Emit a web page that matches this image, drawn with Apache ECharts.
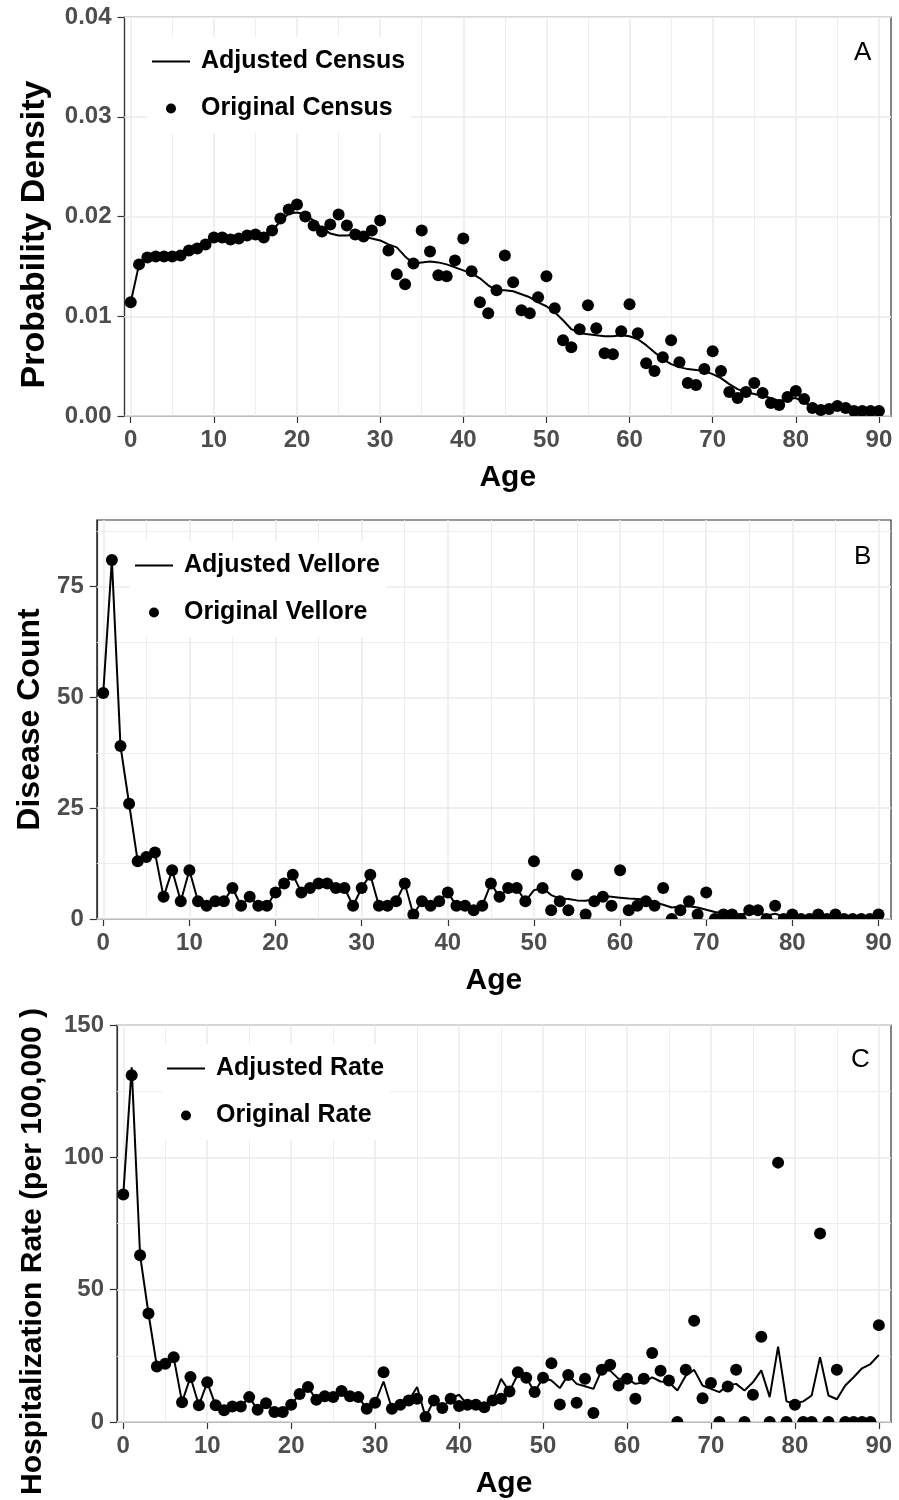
<!DOCTYPE html>
<html><head><meta charset="utf-8">
<script src="https://cdn.jsdelivr.net/npm/echarts@6/dist/echarts.min.js"></script>
<style>html,body{margin:0;padding:0;background:#fff}#c{width:899px;height:1500px}</style>
</head><body><div id="c"></div>
<script>
const ages = [0,1,2,3,4,5,6,7,8,9,10,11,12,13,14,15,16,17,18,19,20,21,22,23,24,25,26,27,28,29,30,31,32,33,34,35,36,37,38,39,40,41,42,43,44,45,46,47,48,49,50,51,52,53,54,55,56,57,58,59,60,61,62,63,64,65,66,67,68,69,70,71,72,73,74,75,76,77,78,79,80,81,82,83,84,85,86,87,88,89,90];

// Panel A
const censusOriginal = [0.0114,0.0152,0.0159,0.0160,0.0160,0.0160,0.0161,0.0166,0.0168,0.0172,0.0179,0.0179,0.0177,0.0178,0.0181,0.0182,0.0179,0.0186,0.0198,0.0207,0.0212,0.0200,0.0191,0.0185,0.0192,0.0202,0.0191,0.0182,0.0180,0.0186,0.0196,0.0166,0.0142,0.0132,0.0153,0.0186,0.0165,0.0141,0.0140,0.0156,0.0178,0.0145,0.0114,0.0103,0.0126,0.0161,0.0134,0.0106,0.0103,0.0119,0.0140,0.0108,0.0076,0.0069,0.0087,0.0111,0.0088,0.0063,0.0062,0.0085,0.0112,0.0083,0.0053,0.0045,0.0059,0.0076,0.0054,0.0033,0.0031,0.0047,0.0065,0.0045,0.0024,0.0018,0.0024,0.0033,0.0023,0.0013,0.0011,0.0019,0.0025,0.0017,0.0008,0.0006,0.0007,0.0010,0.0008,0.0005,0.0005,0.0005,0.0005];
const censusAdjusted = [0.0114,0.0152,0.0158,0.0159,0.0159,0.0160,0.0162,0.0165,0.0168,0.0172,0.0177,0.0178,0.0178,0.0179,0.0180,0.0181,0.0182,0.0186,0.0195,0.0203,0.0204,0.0202,0.0196,0.0188,0.0183,0.0181,0.0181,0.0182,0.0180,0.0178,0.0176,0.0172,0.0169,0.0160,0.0153,0.0154,0.0155,0.0154,0.0152,0.0149,0.0146,0.0143,0.0138,0.0131,0.0126,0.0126,0.0125,0.0122,0.0119,0.0114,0.0110,0.0104,0.0096,0.0087,0.0083,0.0082,0.0081,0.0080,0.0080,0.0081,0.0080,0.0077,0.0071,0.0064,0.0057,0.0052,0.0049,0.0047,0.0046,0.0045,0.0042,0.0038,0.0032,0.0027,0.0024,0.0022,0.0020,0.0018,0.0015,0.0017,0.0018,0.0014,0.0009,0.0006,0.0006,0.0006,0.0006,0.0005,0.0004,0.0004,0.0004];

// Panel B
const velloreOriginal = [51,81,39,26,13,14,15,5,11,4,11,4,3,4,4,7,3,5,3,3,6,8,10,6,7,8,8,7,7,3,7,10,3,3,4,8,1,4,3,4,6,3,3,2,3,8,5,7,7,4,13,7,2,4,2,10,1,4,5,3,11,2,3,4,3,7,0,2,4,1,6,0,1,1,0,2,2,0,3,0,1,0,0,1,0,1,0,0,0,0,1];
const velloreAdjusted = [51,81,39,26,13,14,15,5,11,4,11,4,3,4,4,7,3,5,3,3,6,8,10,6,7,8,8,7,7,3,7,10,3,3,4,8,1,4,3,4,6,3,3,2,3,8,5,7,7,4,6.5,7,5.4,4.6,4.5,4.2,4.1,4.5,5.2,5.0,4.8,4.6,4.5,4.4,3.8,3.2,2.6,2.8,2.9,2.6,2.1,1.6,1.3,1.1,1.0,1.4,1.4,0.8,1.2,0.5,0.7,0.4,0.3,0.6,0.3,0.5,0.2,0.2,0.2,0.3,0.8];

// Panel C
const rateOriginal = [86,131,63,41,21,22,24.5,7.5,17,6.3,15,6.3,4.4,5.9,5.9,9.4,4.6,7.1,3.8,3.8,6.5,10.6,13.2,8.4,9.7,9.4,11.7,9.7,9.4,5,7.3,18.8,5,6.5,8.1,8.8,1.9,8.1,5.3,8.8,6,6.5,6.5,5.6,8.1,8.8,11.5,18.8,16.7,11.3,16.7,22.2,6.6,17.8,7.3,16.3,3.4,19.7,21.6,13.8,16.3,8.8,16.3,26.1,19.4,15.7,0,19.7,38.3,9,14.7,0,13.4,19.7,0,10.3,32.2,0,98,0,6.5,0,0,71.2,0,19.7,0,0,0,0,36.6];
const rateAdjusted = [86,134,63,41,21,22,24.5,7.5,17,6.3,15,6.3,4.4,5.9,5.9,9.4,4.6,7.1,3.8,3.8,6.5,10.6,13.2,8.4,9.7,9.4,11.7,9.7,9.4,5,7.3,15.3,5,6.5,8.1,13.2,1.9,8.1,5.3,8.8,10.3,6.5,6.5,5.6,8.1,16.3,11.5,18,16.7,11.3,16.7,15.7,12.8,17.8,14.4,13.5,12.5,19.7,19.4,16.3,16.3,14.4,15,16.9,15.3,15,11.9,17.5,19.7,13.8,12.5,11.3,13.8,14.4,11.9,15,19.5,9.4,28.5,7.8,6.9,7.8,10,24.5,10,8.6,13.8,16.9,20.3,21.9,25.3];

// Tick labels and grid-line positions
const xTicks = [0,10,20,30,40,50,60,70,80,90];
const xMinor = [5,15,25,35,45,55,65,75,85];
const yTicksA = [0,0.01,0.02,0.03,0.04];
const yMinorA = [0.005,0.015,0.025,0.035];
const yTicksB = [0,25,50,75];
const yMinorB = [12.5,37.5,62.5,87.5];
const yTicksC = [0,50,100,150];
const yMinorC = [25,75,125];

const FONT = "'Liberation Sans', Arial, Helvetica, sans-serif";
const pair = (vals) => ages.map((a, i) => [a, vals[i]]);
const LINE_ICON = 'path://M0,0 L38,0 L38,2.2 L0,2.2 Z';

const panels = [
  {grid:{left:124.5, top:17, width:766.5, height:399}, ymax:0.04, yTicks:yTicksA, yMinor:yMinorA, yName:'Probability Density',
   yNameGap:73, yNameSize:34, yNamePad:[0,36,0,0],
   fmt:(v)=>v.toFixed(2), lineName:'Adjusted Census', ptName:'Original Census', line:censusAdjusted, pts:censusOriginal,
   legend:{left:147, top:37}, letter:'A', letterPos:{left:854, top:40}},
  {grid:{left:96.8, top:520, width:794.2, height:399}, ymax:90, yTicks:yTicksB, yMinor:yMinorB, yName:'Disease Count',
   yNameGap:46, yNameSize:32, yNamePad:[0,0,0,0],
   fmt:(v)=>String(v), lineName:'Adjusted Vellore', ptName:'Original Vellore', line:velloreAdjusted, pts:velloreOriginal,
   legend:{left:130, top:541}, letter:'B', letterPos:{left:854, top:544}},
  {grid:{left:117, top:1025, width:774, height:398.5}, ymax:150, yTicks:yTicksC, yMinor:yMinorC, yName:'Hospitalization Rate (per 100,000 )',
   yNameGap:69, yNameSize:30, yNamePad:[0,56,0,0],
   fmt:(v)=>String(v), lineName:'Adjusted Rate', ptName:'Original Rate', line:rateAdjusted, pts:rateOriginal,
   legend:{left:162, top:1044}, letter:'C', letterPos:{left:851, top:1047}}
];

const option = {animation:false, backgroundColor:'#fff', grid:[], xAxis:[], yAxis:[], series:[], legend:[], title:[]};

panels.forEach((p, i) => {
  option.grid.push(Object.assign({show:true, borderColor:'#333', borderWidth:1.2, backgroundColor:'transparent', containLabel:false}, p.grid));
  option.xAxis.push({
    gridIndex:i, type:'value', min:-0.75, max:91.45,
    axisLine:{show:true, onZero:false, lineStyle:{color:'#333', width:1.2}},
    axisTick:{show:true, length:7, customValues:xTicks, lineStyle:{color:'#333', width:1.2}},
    axisLabel:{customValues:xTicks, margin:12, fontSize:24, fontWeight:'bold', color:'#4d4d4d', fontFamily:FONT},
    splitLine:{show:false},
    name:'Age', nameLocation:'middle', nameGap:47,
    nameTextStyle:{fontSize:30, fontWeight:'bold', color:'#000', fontFamily:FONT}
  });
  option.yAxis.push({
    gridIndex:i, type:'value', min:0, max:p.ymax,
    axisLine:{show:true, onZero:false, lineStyle:{color:'#333', width:1.2}},
    axisTick:{show:true, length:7, customValues:p.yTicks, lineStyle:{color:'#333', width:1.2}},
    axisLabel:{customValues:p.yTicks, formatter:p.fmt, margin:13, fontSize:24, fontWeight:'bold', color:'#4d4d4d', fontFamily:FONT},
    splitLine:{show:false},
    name:p.yName, nameLocation:'middle', nameGap:p.yNameGap,
    nameTextStyle:{fontSize:p.yNameSize, fontWeight:'bold', color:'#000', fontFamily:FONT, padding:p.yNamePad}
  });
  const gl = [];
  xTicks.forEach(v => gl.push({xAxis:v, lineStyle:{color:'#ebebeb', width:1.5, type:'solid'}}));
  xMinor.forEach(v => gl.push({xAxis:v, lineStyle:{color:'#ebebeb', width:0.9, type:'solid'}}));
  p.yTicks.forEach(v => gl.push({yAxis:v, lineStyle:{color:'#ebebeb', width:1.5, type:'solid'}}));
  p.yMinor.forEach(v => gl.push({yAxis:v, lineStyle:{color:'#ebebeb', width:0.9, type:'solid'}}));
  option.series.push({
    type:'line', name:'grid'+i, xAxisIndex:i, yAxisIndex:i, data:[], silent:true, z:1,
    markLine:{silent:true, z:1, symbol:['none','none'], label:{show:false}, emphasis:{disabled:true}, animation:false, data:gl}
  });
  option.series.push({
    type:'line', name:p.lineName, xAxisIndex:i, yAxisIndex:i, data:pair(p.line), symbol:'none', z:3,
    lineStyle:{color:'#000', width:2}, itemStyle:{color:'#000'}, emphasis:{disabled:true}
  });
  option.series.push({
    type:'custom', name:p.ptName, xAxisIndex:i, yAxisIndex:i, data:pair(p.pts), z:4, clip:true,
    encode:{x:0, y:1}, itemStyle:{color:'#000'}, silent:true,
    renderItem:(params, api) => {
      const c = api.coord([api.value(0), api.value(1)]);
      return {type:'circle', shape:{cx:c[0], cy:c[1], r:6}, style:{fill:'#000'}};
    }
  });
  option.legend.push({
    left:p.legend.left, top:p.legend.top, orient:'vertical', itemWidth:38, itemHeight:10, itemGap:22,
    backgroundColor:'#fff', padding:[12,6,12,5], selectedMode:false,
    textStyle:{fontSize:25, fontWeight:'bold', color:'#000', fontFamily:FONT, padding:[0,0,0,6], lineHeight:24},
    data:[{name:p.lineName, icon:LINE_ICON, itemStyle:{color:'#000'}}, {name:p.ptName, icon:'circle', itemStyle:{color:'#000'}}]
  });
  option.title.push({text:p.letter, left:p.letterPos.left, top:p.letterPos.top, padding:0,
    textStyle:{fontSize:26, fontWeight:'normal', color:'#000', fontFamily:FONT}});
});

const chart = echarts.init(document.getElementById('c'), null, {renderer:'canvas'});
chart.setOption(option);
</script>
</body></html>
